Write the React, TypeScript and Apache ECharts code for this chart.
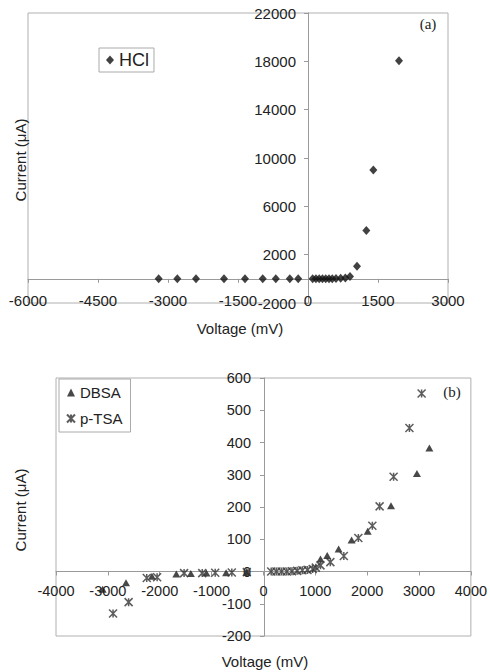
import React, { useEffect, useRef } from "react";
import * as echarts from "echarts";

// ---- Data ----
// (a) HCl
const hclVoltage = [-3200, -2800, -2400, -1800, -1350, -970, -690, -390, -210, 100, 170, 240, 310, 380, 450, 520, 600, 700, 800, 900, 1050, 1250, 1400, 1950];
const hclCurrent = [0, 0, 0, 0, 0, 0, 0, 0, 0, 0, 0, 0, 0, 5, 10, 15, 25, 40, 70, 200, 1050, 4000, 9000, 18050];

// (b) DBSA
const dbsaVoltage = [-3100, -2650, -2150, -1680, -1400, -1100, -720, -320, 1100, 1230, 1450, 1700, 2010, 2460, 2960, 3200];
const dbsaCurrent = [-55, -35, -15, -8, -6, -5, -4, -2, 39, 50, 70, 98, 125, 204, 304, 383];

// (b) p-TSA
const ptsaVoltage = [-2900, -2600, -2250, -2050, -1530, -1180, -930, -610, -320, 150, 250, 350, 450, 550, 650, 750, 850, 950, 1010, 1100, 1290, 1550, 1830, 2100, 2240, 2510, 2815, 3050];
const ptsaCurrent = [-130, -95, -20, -18, -5, -5, -4, -3, -2, 0, 0, 0, 0, 1, 2, 4, 5, 8, 12, 19, 29, 48, 104, 142, 202, 294, 445, 552];

// axis ranges / tick labels
const topX = { min: -6000, max: 3000, interval: 1500 };
const topY = { min: -2000, max: 22000 };
const topYTicks = [-2000, 2000, 6000, 10000, 14000, 18000, 22000];
const botX = { min: -4000, max: 4000, interval: 1000 };
const botY = { min: -200, max: 600, interval: 100 };

const FONT = "Arial, 'Liberation Sans', sans-serif";
const SERIF = "'Times New Roman', 'Liberation Serif', serif";
const TXT = "#222";
const AX = "#9a9a9a";

const STAR = "path://M0,0L10,10M10,0L0,10M5,0L5,10";

const G1 = { left: 28, top: 13, width: 420, height: 290 };
const G2 = { left: 56, top: 378, width: 416, height: 258 };

export default function App() {
  const ref = useRef<HTMLDivElement>(null);
  useEffect(() => {
    if (!ref.current) return;
    const chart = echarts.init(ref.current, undefined, { renderer: "svg" });
    // offsets that move the axes onto the zero lines
    const x1Off = -(0 - topY.min) / (topY.max - topY.min) * G1.height;
    const y1Off = -(0 - topX.min) / (topX.max - topX.min) * G1.width;
    const x2Off = -(0 - botY.min) / (botY.max - botY.min) * G2.height;
    const y2Off = -(0 - botX.min) / (botX.max - botX.min) * G2.width;
    const fmt = (v: number) => String(v);
    const base = {
      type: "value" as const,
      axisLine: { show: true, onZero: false, lineStyle: { color: AX, width: 1 } },
      splitLine: { show: false },
    };
    const option: any = {
      animation: false,
      backgroundColor: "#fff",
      grid: [
        { ...G1, show: true, borderColor: "#b0b0b0", borderWidth: 1, backgroundColor: "transparent" },
        { ...G2, show: true, borderColor: "#b0b0b0", borderWidth: 1, backgroundColor: "transparent" },
      ],
      xAxis: [
        {
          ...base,
          gridIndex: 0,
          position: "bottom",
          offset: x1Off,
          ...topX,
          axisTick: { show: true, length: 4, lineStyle: { color: AX } },
          axisLabel: { fontSize: 15, color: TXT, fontFamily: FONT, margin: 14, formatter: fmt },
        },
        {
          ...base,
          gridIndex: 1,
          position: "bottom",
          offset: x2Off,
          ...botX,
          axisTick: { show: true, length: 4, lineStyle: { color: AX } },
          axisLabel: { fontSize: 14.5, color: TXT, fontFamily: FONT, margin: 12, formatter: fmt },
        },
      ],
      yAxis: [
        {
          ...base,
          gridIndex: 0,
          position: "left",
          offset: y1Off,
          ...topY,
          interval: 2000,
          axisTick: { show: true, length: 4, lineStyle: { color: AX }, customValues: topYTicks },
          axisLabel: {
            fontSize: 15,
            color: TXT,
            fontFamily: FONT,
            margin: 12,
            customValues: topYTicks,
            formatter: (v: number) => (topYTicks.indexOf(v) >= 0 ? String(v) : ""),
          },
        },
        {
          ...base,
          gridIndex: 1,
          position: "left",
          offset: y2Off,
          ...botY,
          axisTick: { show: true, length: 4, lineStyle: { color: AX } },
          axisLabel: { fontSize: 14.5, color: TXT, fontFamily: FONT, margin: 13, formatter: fmt },
        },
      ],
      legend: [
        {
          data: ["HCl"],
          left: 99,
          top: 48,
          orient: "vertical",
          backgroundColor: "#fff",
          borderColor: "#aaa",
          borderWidth: 1,
          borderRadius: 0,
          padding: [3, 5, 3, 7],
          itemWidth: 8,
          itemHeight: 9,
          textStyle: { fontSize: 18, color: TXT, fontFamily: FONT },
        },
        {
          data: ["DBSA", "p-TSA"],
          left: 59,
          top: 379,
          orient: "vertical",
          backgroundColor: "#fff",
          borderColor: "#aaa",
          borderWidth: 1,
          borderRadius: 0,
          padding: [6, 8, 6, 7],
          itemGap: 11,
          itemWidth: 8,
          itemHeight: 8,
          textStyle: { fontSize: 15, color: TXT, fontFamily: FONT },
        },
      ],
      series: [
        {
          name: "HCl",
          type: "scatter",
          xAxisIndex: 0,
          yAxisIndex: 0,
          symbol: "diamond",
          symbolSize: [8, 9],
          itemStyle: { color: "#111" },
          data: hclVoltage.map((x, i) => [x, hclCurrent[i]]),
        },
        {
          name: "DBSA",
          type: "scatter",
          xAxisIndex: 1,
          yAxisIndex: 1,
          symbol: "triangle",
          symbolSize: [8, 7],
          itemStyle: { color: "#1a1a1a" },
          data: dbsaVoltage.map((x, i) => [x, dbsaCurrent[i]]),
        },
        {
          name: "p-TSA",
          type: "scatter",
          xAxisIndex: 1,
          yAxisIndex: 1,
          symbol: STAR,
          symbolSize: 8,
          itemStyle: { color: "transparent", borderColor: "#333", borderWidth: 1.5 },
          data: ptsaVoltage.map((x, i) => [x, ptsaCurrent[i]]),
        },
      ],
      graphic: [
        { type: "text", x: 20, y: 160, rotation: Math.PI / 2, style: { text: "Current (μA)", fontSize: 15, fontFamily: FONT, fill: TXT, align: "center", verticalAlign: "middle" } },
        { type: "text", x: 240, y: 328, style: { text: "Voltage (mV)", fontSize: 15, fontFamily: FONT, fill: TXT, align: "center", verticalAlign: "middle" } },
        { type: "text", x: 20, y: 510, rotation: Math.PI / 2, style: { text: "Current (μA)", fontSize: 15, fontFamily: FONT, fill: TXT, align: "center", verticalAlign: "middle" } },
        { type: "text", x: 265, y: 661, style: { text: "Voltage (mV)", fontSize: 15, fontFamily: FONT, fill: TXT, align: "center", verticalAlign: "middle" } },
        { type: "text", x: 428, y: 24, style: { text: "(a)", fontSize: 15, fontFamily: SERIF, fill: TXT, align: "center", verticalAlign: "middle" } },
        { type: "text", x: 452, y: 392, style: { text: "(b)", fontSize: 15, fontFamily: SERIF, fill: TXT, align: "center", verticalAlign: "middle" } },
      ],
    };
    chart.setOption(option);
    return () => chart.dispose();
  }, []);
  return <div ref={ref} style={{ position: "absolute", left: 0, top: 0, width: 490, height: 672 }} />;
}
